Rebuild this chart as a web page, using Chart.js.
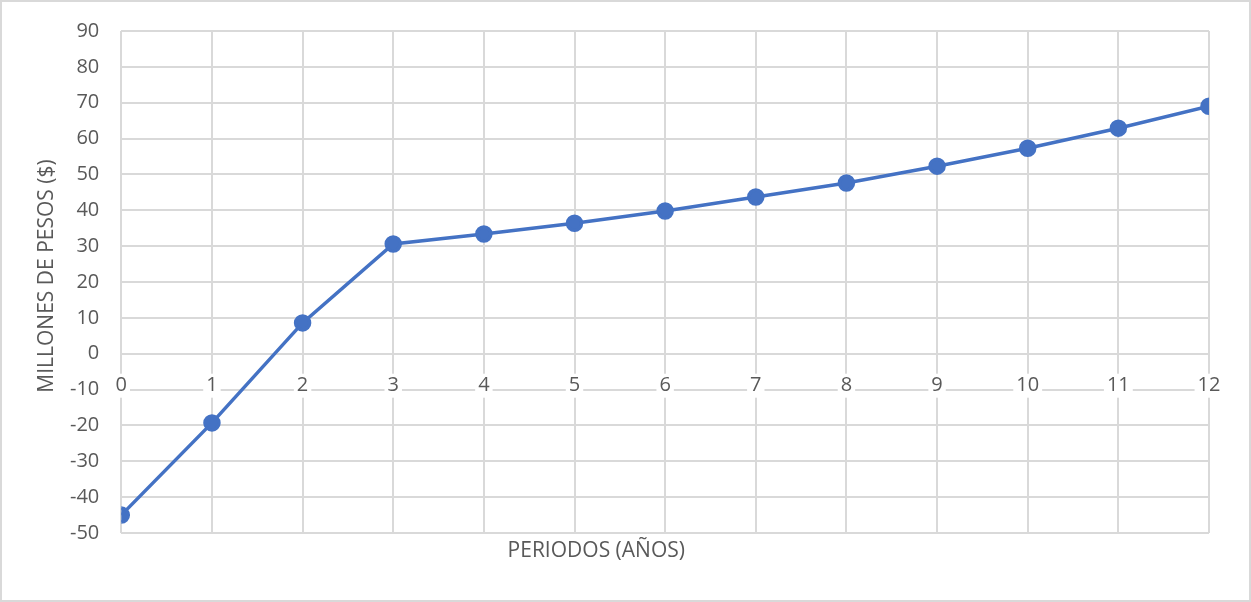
<!DOCTYPE html>
<html>
<head>
<meta charset="utf-8">
<script src="https://cdn.jsdelivr.net/npm/chart.js@4"></script>
<style>
  html, body { margin: 0; padding: 0; background: #fff; }
  #wrap { position: relative; width: 1251px; height: 602px; }
  #borde { position: absolute; left: 0; top: 0; width: 1251px; height: 602px; box-sizing: border-box; border: 2px solid #d9d9d9; pointer-events: none; }
  canvas { display: block; }
</style>
</head>
<body>
<div id="wrap"><canvas id="chart" width="1251" height="602"></canvas><div id="borde"></div></div>
<script>
// datos del flujo acumulado
const periodos = [0, 1, 2, 3, 4, 5, 6, 7, 8, 9, 10, 11, 12];
const millones = [-45.0, -19.3, 8.6, 30.6, 33.4, 36.4, 39.8, 43.7, 47.6, 52.3, 57.3, 62.9, 69.0];
const tituloX = 'PERIODOS (AÑOS)';
const tituloY = 'MILLONES DE PESOS ($)';

const gris = '#d9d9d9';
const texto = '#595959';
const fuente = '"Open Sans", "Liberation Sans", sans-serif';

// titulos de los ejes dibujados a mano (el eje X cruza en 0)
const titulos = {
    id: 'titulos',
    afterDraw(chart) {
        const ctx = chart.ctx;
        const xs = chart.scales.x;
        const area = chart.chartArea;
        ctx.save();
        ctx.font = '21px ' + fuente;
        ctx.fillStyle = texto;
        ctx.textAlign = 'center';
        ctx.textBaseline = 'middle';
        ctx.fillText(tituloX, xs.getPixelForValue(5.24), area.bottom + 18);
        ctx.translate(area.left - 74, (area.top + area.bottom) / 2 - 6);
        ctx.rotate(-Math.PI / 2);
        ctx.fillText(tituloY, 0, 0);
        ctx.restore();
    }
};

new Chart(document.getElementById('chart'), {
    type: 'line',
    data: {
        datasets: [{
            data: periodos.map((p, i) => ({ x: p, y: millones[i] })),
            borderColor: '#4472C4',
            backgroundColor: '#4472C4',
            borderWidth: 3.5,
            pointRadius: 7,
            pointHoverRadius: 7,
            tension: 0
        }]
    },
    options: {
        responsive: false,
        animation: false,
        layout: { padding: { top: 16, right: 42, bottom: 69, left: 48 } },
        plugins: { legend: { display: false }, tooltip: { enabled: false } },
        scales: {
            x: {
                type: 'linear',
                position: { y: 0 },
                min: 0, max: 12,
                border: { display: false },
                grid: { color: gris, lineWidth: 2, tickLength: 10, drawTicks: true },
                ticks: {
                    stepSize: 1, color: texto, font: { family: fuente, size: 20 }, padding: 10, maxRotation: 0,
                    z: 1, showLabelBackdrop: true, backdropColor: '#ffffff', backdropPadding: { left: 3, right: 3, top: 0, bottom: 0 }
                }
            },
            y: {
                min: -50, max: 90,
                border: { display: false },
                grid: { color: gris, lineWidth: 2, drawTicks: false },
                ticks: { stepSize: 10, color: texto, font: { family: fuente, size: 20, lineHeight: 0.9 }, padding: 22 }
            }
        }
    },
    plugins: [titulos]
});
</script>
</body>
</html>
